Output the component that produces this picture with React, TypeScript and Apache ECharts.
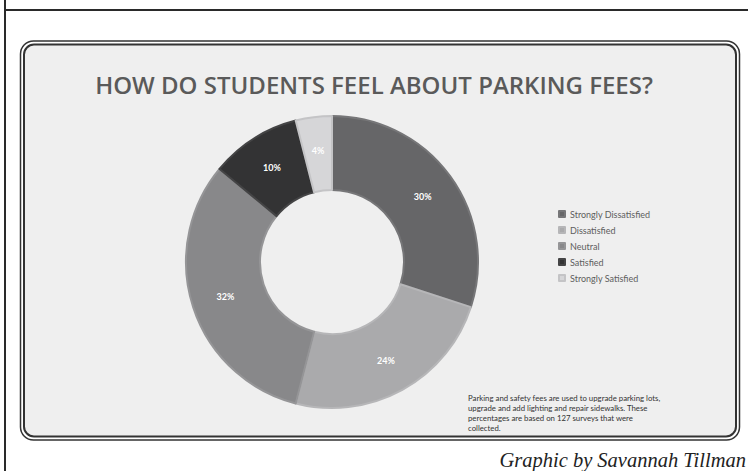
import React, { useEffect, useRef } from "react";
import * as echarts from "echarts";

const categories = ["Strongly Dissatisfied", "Dissatisfied", "Neutral", "Satisfied", "Strongly Satisfied"];
const values = [30, 24, 32, 10, 4];
const colors = ["#666668", "#aaaaac", "#88888a", "#333334", "#d6d6d8"];
const borders = ["#767678", "#b6b6b8", "#959597", "#444445", "#c4c4c6"];
const titleText = "HOW DO STUDENTS FEEL ABOUT PARKING FEES?";
const noteLines = [
  "Parking and safety fees are used to upgrade parking lots,",
  "upgrade and add lighting and repair sidewalks. These",
  "percentages are based on 127 surveys that were",
  "collected.",
];
const creditText = "Graphic by Savannah Tillman";

export default function App() {
  const ref = useRef<HTMLDivElement>(null);
  useEffect(() => {
    document.body.style.margin = "0";
    const chart = echarts.init(ref.current!, null, { renderer: "svg" });
    chart.setOption({
      animation: false,
      backgroundColor: "#ffffff",
      title: {
        text: titleText,
        left: "center",
        top: 67,
        textStyle: { fontFamily: "Open Sans", fontWeight: 600, fontSize: 24, color: "#5a5a5a" },
      },
      legend: {
        orient: "vertical",
        left: 553,
        top: 204,
        icon: "rect",
        itemWidth: 6,
        itemHeight: 6,
        itemGap: 6,
        data: categories,
        textStyle: { fontFamily: "Lato", fontSize: 9, color: "#5e5e5e", lineHeight: 10 },
      },
      graphic: [
        { type: "line", shape: { x1: 5, y1: 0, x2: 5, y2: 471 }, style: { stroke: "#2a2a2a", lineWidth: 2 }, z: 0 },
        { type: "line", shape: { x1: 4, y1: 10, x2: 748, y2: 10 }, style: { stroke: "#2a2a2a", lineWidth: 2 }, z: 0 },
        {
          type: "rect",
          shape: { x: 20.5, y: 41, width: 719, height: 399, r: 13 },
          style: { fill: "#ffffff", stroke: "#333", lineWidth: 1.5 },
          z: -10,
        },
        {
          type: "rect",
          shape: { x: 24, y: 44.5, width: 712, height: 392, r: 10 },
          style: { fill: "#efefef", stroke: "#333", lineWidth: 2 },
          z: -9,
        },
        {
          type: "text",
          left: 468,
          top: 393,
          style: {
            text: noteLines.join("\n"),
            fontFamily: "Lato",
            fontSize: 7.8,
            lineHeight: 10,
            fill: "#333333",
          },
        },
        {
          type: "text",
          x: 746,
          y: 460,
          style: {
            text: creditText,
            fontFamily: "Liberation Serif",
            fontStyle: "italic",
            fontSize: 20.5,
            fill: "#222222",
            align: "right",
            verticalAlign: "middle",
          },
        },
      ],
      series: [
        {
          type: "pie",
          center: [332, 262],
          radius: [72, 146],
          startAngle: 90,
          clockwise: true,
          avoidLabelOverlap: false,
          label: {
            show: true,
            position: "inside",
            formatter: "{c}%",
            color: "#ffffff",
            fontFamily: "Lato",
            fontWeight: "bold",
            fontSize: 9,
          },
          labelLine: { show: false },
          emphasis: { disabled: true },
          data: categories.map((name, i) => ({
            name,
            value: values[i],
            itemStyle: { color: colors[i], borderColor: borders[i], borderWidth: 2 },
          })),
        },
      ],
    });
    return () => chart.dispose();
  }, []);
  return <div ref={ref} style={{ width: 748, height: 471 }} />;
}
